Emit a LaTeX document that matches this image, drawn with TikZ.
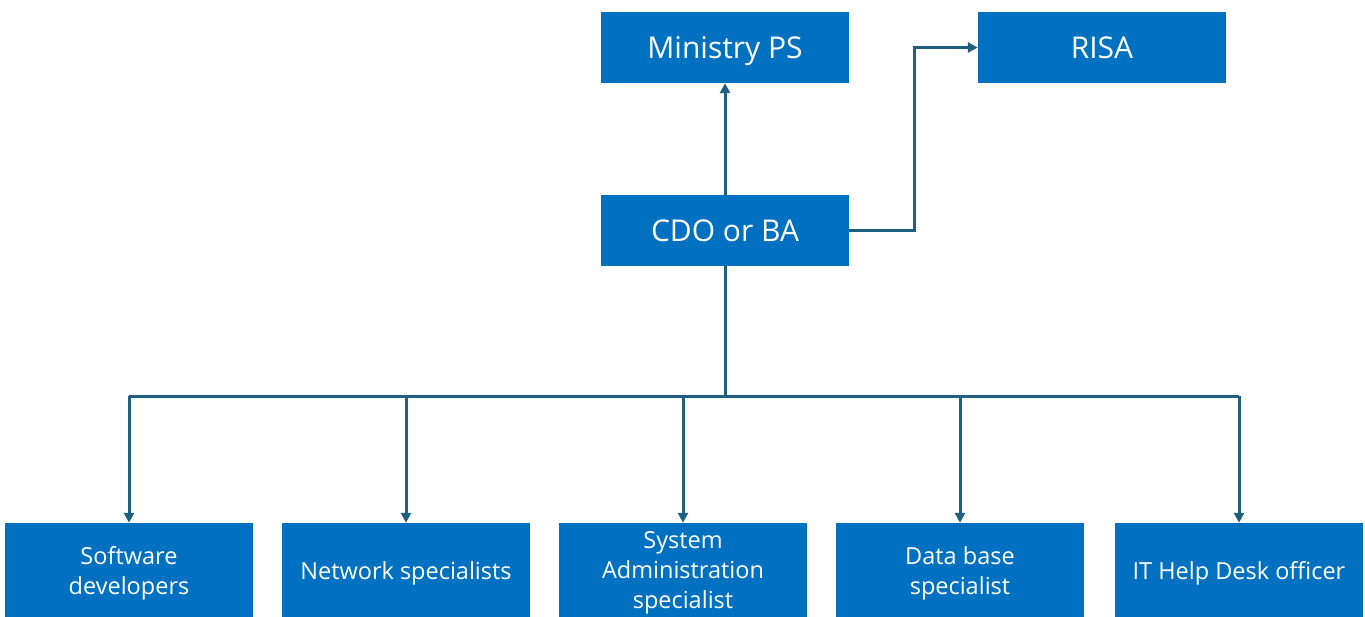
\documentclass[tikz,border=0pt]{standalone}
\usepackage{fontspec}
\setmainfont{Open Sans}
\usetikzlibrary{arrows.meta}
\definecolor{boxblue}{HTML}{0070C0}
\definecolor{linecol}{HTML}{1F6080}
\tikzset{
  topbox/.style={rectangle, fill=boxblue, text=white, minimum width=248pt, minimum height=71pt, inner sep=0pt, text height=21.5pt, text depth=0pt, font=\fontsize{30}{34}\selectfont},
  botbox/.style={rectangle, fill=boxblue, text=white, minimum width=248pt, minimum height=100pt, inner sep=0pt, align=center, font=\fontsize{23.5}{30}\selectfont},
  conn/.style={draw=linecol, line width=3pt},
  arr/.style={conn, -{Triangle[length=10pt,width=10pt]}}
}
\begin{document}
\begin{tikzpicture}[x=1pt,y=-1pt]
\useasboundingbox (0,0) rectangle (1365,616);
\fill[white] (0,0) rectangle (1365,616);
\node[topbox] (ps) at (725,47.5) {Ministry PS};
\node[topbox] (risa) at (1102,47.5) {RISA};
\node[topbox] (cdo) at (725,230.5) {CDO or BA};
\node[botbox] (sw) at (129,573) {Software\\developers};
\node[botbox] (net) at (406,573) {Network specialists};
\node[botbox] (sys) at (683,573) {System\\Administration\\specialist};
\node[botbox] (db) at (960,573) {Data base\\specialist};
\node[botbox] (it) at (1239,573) {IT Help Desk officer};
\coordinate (bus) at (725,396);
\draw[arr] (cdo.north) -- (ps.south);
\draw[arr] (cdo.east) -- (914,230.5) |- (risa.west);
\draw[conn] (cdo.south) -- (bus);
\draw[conn] (sw.north |- bus) -- (it.north |- bus);
\foreach \n in {sw,net,sys,db,it}{
  \draw[arr] (\n.north |- bus) -- (\n.north);
}
\end{tikzpicture}
\end{document}
